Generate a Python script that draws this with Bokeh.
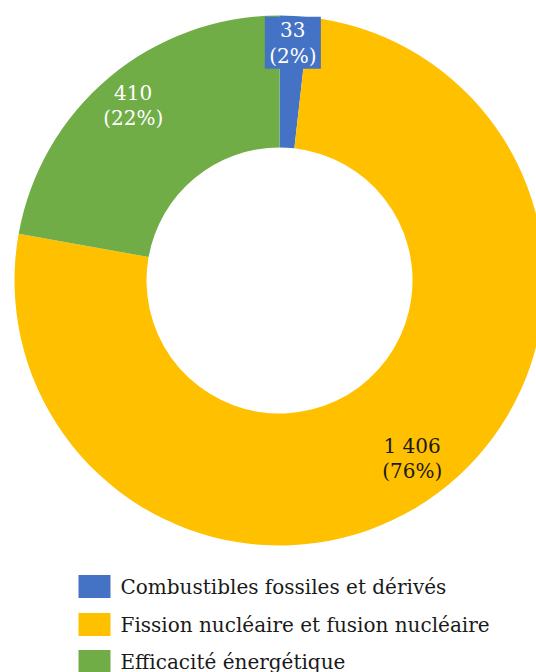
import math
from bokeh.plotting import figure
from bokeh.models import Range1d, ColumnDataSource
from bokeh.core.properties import value
from bokeh.embed import file_html
from bokeh.resources import INLINE

# ---- data ----
categories = ["Combustibles fossiles et dérivés",
              "Fission nucléaire et fusion nucléaire",
              "Efficacité énergétique"]
values = [33, 1406, 410]
colors = ["#4472C4", "#FFC000", "#70AD47"]
label_colors = ["white", "#1a1a1a", "white"]

# ---- layout / style ----
W, H = 536, 672
CX, CY = 279, H - 280
R_OUT, R_IN = 265, 133
label_r = [238, 222, 228]
FONT = "DejaVu Serif"
FS = "20px"

total = sum(values)
starts, ends, lx, ly, texts = [], [], [], [], []
acc = 0.0
for i, v in enumerate(values):
    a0 = acc / total * 2 * math.pi
    acc += v
    a1 = acc / total * 2 * math.pi
    starts.append(math.pi / 2 - a0)
    ends.append(math.pi / 2 - a1)
    mid = (a0 + a1) / 2
    lx.append(CX + label_r[i] * math.sin(mid))
    ly.append(CY + label_r[i] * math.cos(mid))
    num = f"{v:,}".replace(",", " ")
    texts.append(f"{num}\n({round(v / total * 100)}%)")

p = figure(width=W, height=H, output_backend="svg", toolbar_location=None,
           x_range=Range1d(0, W), y_range=Range1d(0, H), min_border=0)
p.axis.visible = False
p.grid.visible = False
p.outline_line_color = None
p.background_fill_color = "white"

src = ColumnDataSource(dict(start=starts, end=ends, color=colors))
p.annular_wedge(x=CX, y=CY, inner_radius=R_IN, outer_radius=R_OUT,
                start_angle="start", end_angle="end", direction="clock",
                fill_color="color", line_color=None, source=src)

# label box for the small slice
p.rect(x=[lx[0]], y=[ly[0]], width=56, height=52, width_units="screen",
       height_units="screen", fill_color=colors[0], line_color=None)

lsrc = ColumnDataSource(dict(x=lx, y=ly, t=texts, c=label_colors))
p.text(x="x", y="y", text="t", text_color="c", source=lsrc,
       text_align="center", text_baseline="middle",
       text_font=value(FONT), text_font_size=FS, text_line_height=1.07)

# legend
leg_y = [H - 586, H - 624, H - 661]
p.rect(x=[94] * 3, y=leg_y, width=32, height=23, fill_color=colors,
       line_color=None)
p.text(x=[120] * 3, y=leg_y, text=categories, text_color="#1a1a1a",
       text_align="left", text_baseline="middle",
       text_font=value(FONT), text_font_size=FS)

open("out.html", "w").write(file_html(p, INLINE))
